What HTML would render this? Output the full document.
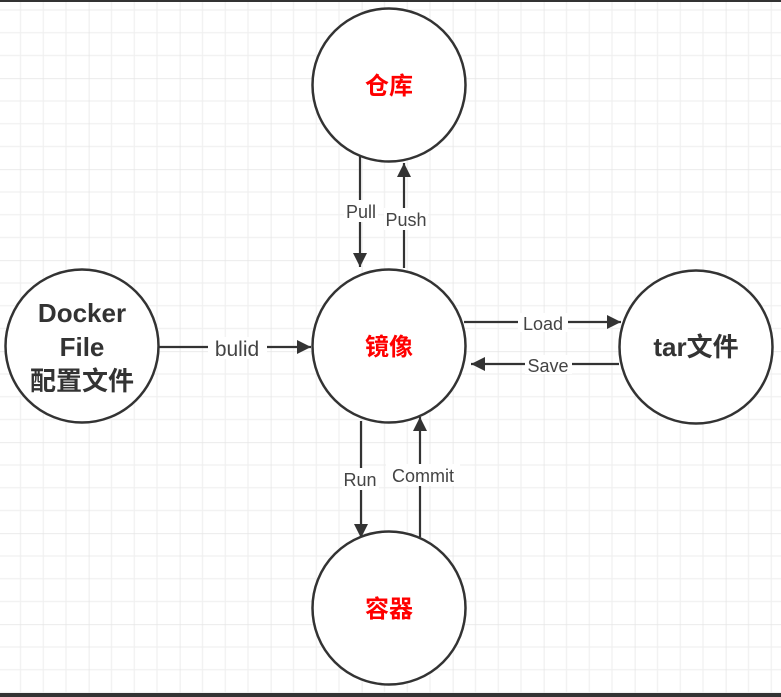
<!DOCTYPE html>
<html><head><meta charset="utf-8"><style>
body{margin:0;width:781px;height:697px;overflow:hidden;background:#fff}
svg{display:block}
text{font-family:"Liberation Sans","Noto Sans CJK SC",sans-serif}
</style></head><body>
<svg width="781" height="697" viewBox="0 0 781 697" xmlns="http://www.w3.org/2000/svg">
<defs>
<pattern id="g" x="-2.25" y="-12.75" width="91" height="91" patternUnits="userSpaceOnUse">
<path d="M22.75 0V91M45.5 0V91M68.25 0V91M0 22.75H91M0 45.5H91M0 68.25H91" stroke="#f0f0f0" stroke-width="1.2" fill="none"/>
<path d="M0 0V91M0 0H91" stroke="#e4e4e4" stroke-width="1.4" fill="none"/>
</pattern>
</defs>
<rect width="781" height="697" fill="url(#g)"/>
<rect x="0" y="0" width="781" height="2" fill="#333"/>
<rect x="0" y="693" width="781" height="4" fill="#333"/>
<g stroke="#333" stroke-width="2.2" fill="none">
<line x1="360" y1="155" x2="360" y2="267" />
<line x1="404" y1="268" x2="404" y2="163" />
<line x1="159" y1="347" x2="311" y2="347" />
<line x1="464" y1="322" x2="621" y2="322" />
<line x1="619" y1="364" x2="471" y2="364" />
<line x1="361" y1="421" x2="361" y2="538" />
<line x1="420" y1="537" x2="420" y2="417" />
</g>
<g fill="#333">
<path d="M353 253L367 253L360 267Z"/>
<path d="M397 177L411 177L404 163Z"/>
<path d="M297 340L297 354L311 347Z"/>
<path d="M607 315L607 329L621 322Z"/>
<path d="M485 357L485 371L471 364Z"/>
<path d="M354 524L368 524L361 538Z"/>
<path d="M413 431L427 431L420 417Z"/>
</g>
<g fill="#fff">
<rect x="344" y="200" width="34" height="22"/>
<rect x="384" y="208" width="44" height="22"/>
<rect x="208" y="337" width="59" height="22"/>
<rect x="518" y="313" width="50" height="19"/>
<rect x="525" y="355" width="47" height="19"/>
<rect x="342" y="468" width="37" height="22"/>
<rect x="386" y="464" width="74" height="22"/>
</g>
<g fill="#444" font-size="18">
<text x="361" y="218" text-anchor="middle">Pull</text>
<text x="406" y="226" text-anchor="middle">Push</text>
<text x="237" y="356" text-anchor="middle" font-size="21">bulid</text>
<text x="543" y="330" text-anchor="middle">Load</text>
<text x="548" y="372" text-anchor="middle">Save</text>
<text x="360" y="486" text-anchor="middle">Run</text>
<text x="423" y="482" text-anchor="middle">Commit</text>
</g>
<g stroke="#333" stroke-width="2.5" fill="#fff">
<circle cx="389" cy="85" r="76.5"/>
<circle cx="389" cy="346" r="76.5"/>
<circle cx="389" cy="608" r="76.5"/>
<circle cx="82" cy="346" r="76.5"/>
<circle cx="696" cy="347" r="76.5"/>
</g>
<g font-weight="bold" text-anchor="middle" font-size="24">
<text x="389" y="94" fill="#f00">仓库</text>
<text x="389" y="355" fill="#f00">镜像</text>
<text x="389" y="617" fill="#f00">容器</text>
<text x="82" y="322" fill="#333" font-size="26">Docker</text>
<text x="82" y="356" fill="#333" font-size="26">File</text>
<text x="82" y="390" fill="#333" font-size="26">配置文件</text>
<text x="696" y="356" fill="#333" font-size="26">tar文件</text>
</g>
</svg>
</body></html>
